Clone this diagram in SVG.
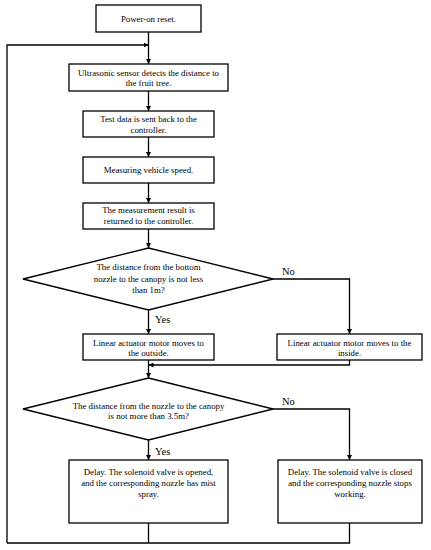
<svg xmlns="http://www.w3.org/2000/svg" width="431" height="550" viewBox="0 0 431 550">
<style>
.box{fill:#fff;stroke:#000;stroke-width:1.3}
.ln{fill:none;stroke:#000;stroke-width:1.3}
text{font-family:"Liberation Serif","Times New Roman",serif;font-size:8.8px;fill:#000;text-anchor:middle}
.lbl{font-size:10.5px;text-anchor:start}
</style>
<defs>
<marker id="ah" viewBox="0 0 10 10" refX="10" refY="5" markerWidth="5" markerHeight="5" markerUnits="userSpaceOnUse" orient="auto">
<path d="M0,0 L10,5 L0,10 z" fill="#000"/>
</marker>
</defs>
<rect width="431" height="550" fill="#fff"/>
<g id="connectors">
<path class="ln" d="M148.5,32 V64" marker-end="url(#ah)"/>
<path class="ln" d="M7,543 V45 H148.5" marker-end="url(#ah)"/>
<path class="ln" d="M148.5,91 V111" marker-end="url(#ah)"/>
<path class="ln" d="M148.5,137 V157" marker-end="url(#ah)"/>
<path class="ln" d="M148.5,183 V203" marker-end="url(#ah)"/>
<path class="ln" d="M148.5,229 V248" marker-end="url(#ah)"/>
<path class="ln" d="M148.5,310 V334" marker-end="url(#ah)"/>
<path class="ln" d="M273,279 H349.5 V334" marker-end="url(#ah)"/>
<path class="ln" d="M148.5,360 V378" marker-end="url(#ah)"/>
<path class="ln" d="M349.5,360 V365 H148.5" marker-end="url(#ah)"/>
<path class="ln" d="M148.5,440 V460" marker-end="url(#ah)"/>
<path class="ln" d="M273,409 H349.5 V460" marker-end="url(#ah)"/>
<path class="ln" d="M148.5,523 V543"/>
<path class="ln" d="M349.5,523 V543 H7"/>
<text class="lbl" x="282" y="275">No</text>
<text class="lbl" x="155" y="323">Yes</text>
<text class="lbl" x="282" y="405">No</text>
<text class="lbl" x="155" y="455">Yes</text>
</g>
<g id="power-on">
<rect class="box" x="96" y="5" width="105" height="27"/>
<text x="148.5" y="21.5">Power-on reset.</text>
</g>
<g id="ultrasonic">
<rect class="box" x="69" y="64" width="159" height="27"/>
<text x="148.5" y="75.5">Ultrasonic sensor detects the distance to</text>
<text x="148.5" y="86">the fruit tree.</text>
</g>
<g id="test-data">
<rect class="box" x="83" y="111" width="131" height="26"/>
<text x="148.5" y="121.5">Test data is sent back to the</text>
<text x="148.5" y="132.5">controller.</text>
</g>
<g id="speed">
<rect class="box" x="83" y="157" width="131" height="26"/>
<text x="148.5" y="173">Measuring vehicle speed.</text>
</g>
<g id="result">
<rect class="box" x="83" y="203" width="131" height="26"/>
<text x="148.5" y="213">The measurement result is</text>
<text x="148.5" y="224">returned to the controller.</text>
</g>
<g id="decision1">
<polygon class="box" points="148.5,248 273,279 148.5,310 23,279"/>
<text x="148.5" y="270">The distance from the bottom</text>
<text x="148.5" y="282">nozzle to the canopy is not less</text>
<text x="148.5" y="292.5">than 1m?</text>
</g>
<g id="outside">
<rect class="box" x="83" y="334" width="131" height="26"/>
<text x="148.5" y="345.5">Linear actuator motor moves to</text>
<text x="148.5" y="356">the outside.</text>
</g>
<g id="inside">
<rect class="box" x="277" y="334" width="145" height="26"/>
<text x="349.5" y="345.5">Linear actuator motor moves to the</text>
<text x="349.5" y="356">inside.</text>
</g>
<g id="decision2">
<polygon class="box" points="148.5,378 273,409 148.5,440 23,409"/>
<text x="148.5" y="408.5">The distance from the nozzle to the canopy</text>
<text x="148.5" y="418.5">is not more than 3.5m?</text>
</g>
<g id="open">
<rect class="box" x="69" y="460" width="159" height="63"/>
<text x="148.5" y="474.5">Delay. The solenoid valve is opened,</text>
<text x="148.5" y="485.5">and the corresponding nozzle has mist</text>
<text x="148.5" y="496.5">spray.</text>
</g>
<g id="closed">
<rect class="box" x="278" y="460" width="144" height="63"/>
<text x="350" y="474.5">Delay. The solenoid valve is closed</text>
<text x="350" y="485.5">and the corresponding nozzle stops</text>
<text x="350" y="496.5">working.</text>
</g>
</svg>
